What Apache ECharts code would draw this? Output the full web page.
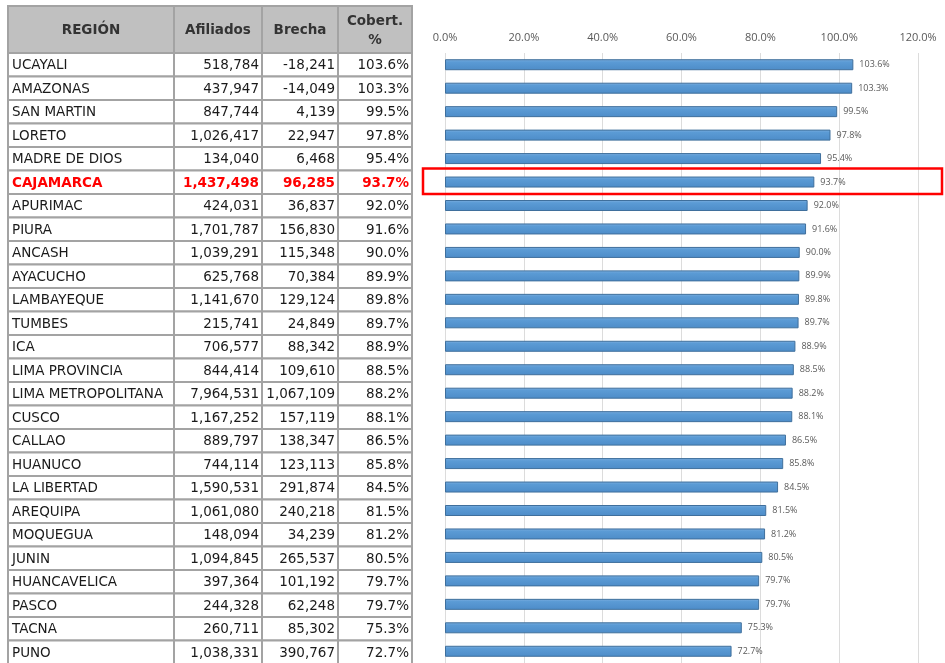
<!DOCTYPE html>
<html>
<head>
<meta charset="utf-8">
<title>Cobertura por región</title>
<script src="https://cdn.jsdelivr.net/npm/echarts@6/dist/echarts.min.js"></script>
<style>
  html, body { margin: 0; padding: 0; background: #fff; }
  #main { width: 945px; height: 663px; }
</style>
</head>
<body>
<div id="main"></div>
<script>
// datos de la tabla (orden de arriba hacia abajo)
const regiones = ['UCAYALI', 'AMAZONAS', 'SAN MARTIN', 'LORETO', 'MADRE DE DIOS', 'CAJAMARCA',
  'APURIMAC', 'PIURA', 'ANCASH', 'AYACUCHO', 'LAMBAYEQUE', 'TUMBES', 'ICA', 'LIMA PROVINCIA',
  'LIMA METROPOLITANA', 'CUSCO', 'CALLAO', 'HUANUCO', 'LA LIBERTAD', 'AREQUIPA', 'MOQUEGUA',
  'JUNIN', 'HUANCAVELICA', 'PASCO', 'TACNA', 'PUNO'];
const afiliados = [518784, 437947, 847744, 1026417, 134040, 1437498, 424031, 1701787, 1039291,
  625768, 1141670, 215741, 706577, 844414, 7964531, 1167252, 889797, 744114, 1590531, 1061080,
  148094, 1094845, 397364, 244328, 260711, 1038331];
const brecha = [-18241, -14049, 4139, 22947, 6468, 96285, 36837, 156830, 115348, 70384, 129124,
  24849, 88342, 109610, 1067109, 157119, 138347, 123113, 291874, 240218, 34239, 265537, 101192,
  62248, 85302, 390767];
const cobertura = [103.6, 103.3, 99.5, 97.8, 95.4, 93.7, 92.0, 91.6, 90.0, 89.9, 89.8, 89.7, 88.9,
  88.5, 88.2, 88.1, 86.5, 85.8, 84.5, 81.5, 81.2, 80.5, 79.7, 79.7, 75.3, 72.7];
const encabezados = ['REGIÓN', 'Afiliados', 'Brecha', 'Cobert.\n%'];
const destacado = 'CAJAMARCA';

// medidas de la tabla
const colX = [8, 174, 262, 338, 412];
const headTop = 6, headBottom = 53, rowH = 23.5;
const lineColor = '#a3a3a3';
const fuente = '"DejaVu Sans", Verdana, sans-serif';

function fmt(n) {
  return n.toLocaleString('en-US');
}

let graficos = [];

// encabezado
for (let c = 0; c < 4; c++) {
  graficos.push({
    type: 'rect',
    shape: { x: colX[c], y: headTop, width: colX[c + 1] - colX[c], height: headBottom - headTop },
    style: { fill: '#c0c0c0', stroke: lineColor, lineWidth: 2 }
  });
  graficos.push({
    type: 'text',
    style: {
      text: encabezados[c],
      x: (colX[c] + colX[c + 1]) / 2,
      y: (headTop + headBottom) / 2 + 1,
      align: 'center',
      verticalAlign: 'middle',
      font: 'bold 13.5px ' + fuente,
      fill: '#333333',
      lineHeight: 19
    }
  });
}

// filas
regiones.forEach((reg, i) => {
  let y = headBottom + i * rowH;
  let rojo = reg === destacado;
  let valores = [reg, fmt(afiliados[i]), fmt(brecha[i]), cobertura[i].toFixed(1) + '%'];
  for (let c = 0; c < 4; c++) {
    graficos.push({
      type: 'rect',
      shape: { x: colX[c], y: y, width: colX[c + 1] - colX[c], height: rowH },
      style: { fill: '#ffffff', stroke: lineColor, lineWidth: 2 }
    });
    graficos.push({
      type: 'text',
      style: {
        text: valores[c],
        x: c === 0 ? colX[c] + 4 : colX[c + 1] - 3,
        y: y + rowH / 2 + 1,
        align: c === 0 ? 'left' : 'right',
        verticalAlign: 'middle',
        font: (rojo ? 'bold ' : '') + '13.5px ' + fuente,
        fill: rojo ? '#ff0000' : '#1a1a1a'
      }
    });
  }
});

// recuadro rojo sobre la barra destacada
let idx = regiones.indexOf(destacado);
graficos.push({
  type: 'rect',
  z: 100,
  shape: { x: 423, y: headBottom + idx * rowH - 2, width: 519, height: rowH + 2 },
  style: { fill: 'none', stroke: '#ff0000', lineWidth: 2.5 }
});

let chart = echarts.init(document.getElementById('main'));

let option = {
  backgroundColor: '#ffffff',
  animation: false,
  grid: {
    left: 445,
    right: 27,
    top: headBottom,
    height: rowH * regiones.length
  },
  xAxis: {
    type: 'value',
    position: 'top',
    min: 0,
    max: 120,
    interval: 20,
    axisLine: { show: false },
    axisTick: { show: false },
    axisLabel: {
      formatter: v => v.toFixed(1) + '%',
      color: '#595959',
      fontFamily: '"Open Sans", sans-serif',
      fontSize: 11,
      margin: 10
    },
    splitLine: { lineStyle: { color: '#dcdcdc', width: 1 } }
  },
  yAxis: {
    type: 'category',
    inverse: true,
    data: regiones,
    axisLine: { show: false },
    axisTick: { show: false },
    axisLabel: { show: false }
  },
  graphic: { elements: graficos },
  series: [
    {
      type: 'bar',
      data: cobertura,
      barWidth: 11,
      itemStyle: {
        color: new echarts.graphic.LinearGradient(0, 0, 0, 1, [
          { offset: 0, color: '#7fb0e0' },
          { offset: 0.25, color: '#5b9bd5' },
          { offset: 1, color: '#4d8cc8' }
        ]),
        borderColor: '#3f6f9c',
        borderWidth: 1
      },
      label: {
        show: true,
        position: 'right',
        distance: 6,
        color: '#595959',
        fontFamily: '"Open Sans", sans-serif',
        fontSize: 9,
        formatter: p => p.value.toFixed(1) + '%'
      }
    }
  ]
};

chart.setOption(option);
</script>
</body>
</html>
